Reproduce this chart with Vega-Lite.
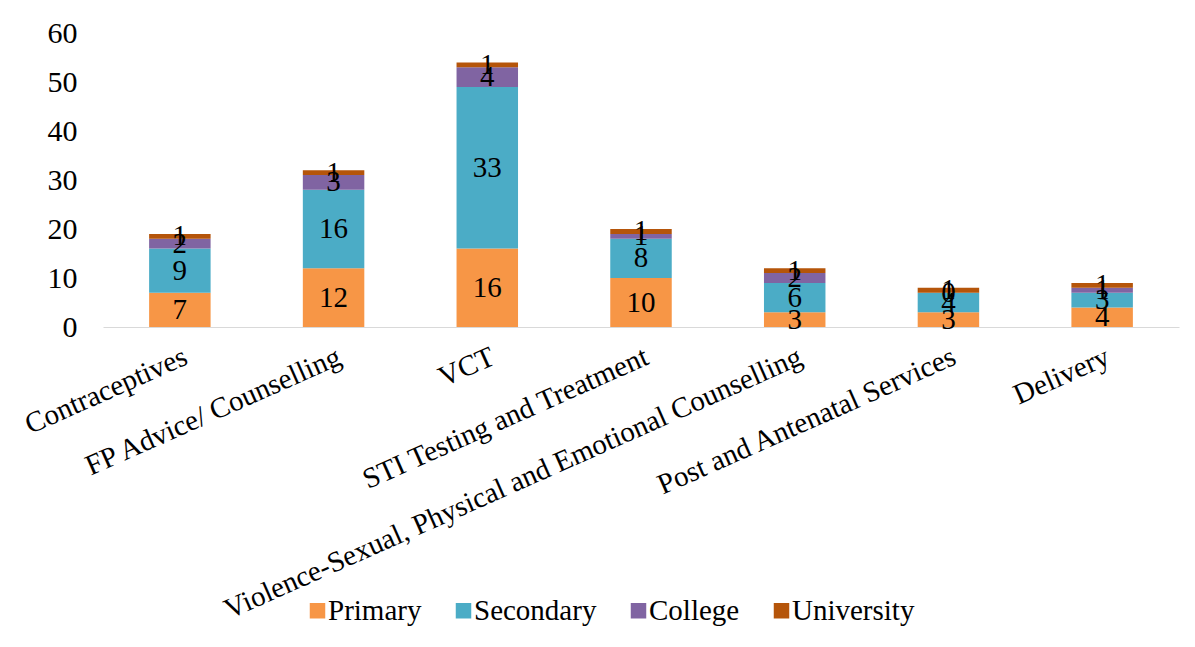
{
  "$schema": "https://vega.github.io/schema/vega-lite/v6.json",
  "autosize": {"type": "none"},
  "width": 1076,
  "height": 294,
  "padding": {"left": 103, "top": 33, "right": 16, "bottom": 320},
  "background": "white",
  "data": {
    "values": [
      {"service": "Contraceptives", "level": "Primary", "ord": 1, "count": 7},
      {"service": "Contraceptives", "level": "Secondary", "ord": 2, "count": 9},
      {"service": "Contraceptives", "level": "College", "ord": 3, "count": 2},
      {"service": "Contraceptives", "level": "University", "ord": 4, "count": 1},
      {"service": "FP Advice/ Counselling", "level": "Primary", "ord": 1, "count": 12},
      {"service": "FP Advice/ Counselling", "level": "Secondary", "ord": 2, "count": 16},
      {"service": "FP Advice/ Counselling", "level": "College", "ord": 3, "count": 3},
      {"service": "FP Advice/ Counselling", "level": "University", "ord": 4, "count": 1},
      {"service": "VCT", "level": "Primary", "ord": 1, "count": 16},
      {"service": "VCT", "level": "Secondary", "ord": 2, "count": 33},
      {"service": "VCT", "level": "College", "ord": 3, "count": 4},
      {"service": "VCT", "level": "University", "ord": 4, "count": 1},
      {"service": "STI Testing and Treatment", "level": "Primary", "ord": 1, "count": 10},
      {"service": "STI Testing and Treatment", "level": "Secondary", "ord": 2, "count": 8},
      {"service": "STI Testing and Treatment", "level": "College", "ord": 3, "count": 1},
      {"service": "STI Testing and Treatment", "level": "University", "ord": 4, "count": 1},
      {"service": "Violence-Sexual, Physical and Emotional Counselling", "level": "Primary", "ord": 1, "count": 3},
      {"service": "Violence-Sexual, Physical and Emotional Counselling", "level": "Secondary", "ord": 2, "count": 6},
      {"service": "Violence-Sexual, Physical and Emotional Counselling", "level": "College", "ord": 3, "count": 2},
      {"service": "Violence-Sexual, Physical and Emotional Counselling", "level": "University", "ord": 4, "count": 1},
      {"service": "Post and Antenatal Services", "level": "Primary", "ord": 1, "count": 3},
      {"service": "Post and Antenatal Services", "level": "Secondary", "ord": 2, "count": 4},
      {"service": "Post and Antenatal Services", "level": "College", "ord": 3, "count": 0},
      {"service": "Post and Antenatal Services", "level": "University", "ord": 4, "count": 1},
      {"service": "Delivery", "level": "Primary", "ord": 1, "count": 4},
      {"service": "Delivery", "level": "Secondary", "ord": 2, "count": 3},
      {"service": "Delivery", "level": "College", "ord": 3, "count": 1},
      {"service": "Delivery", "level": "University", "ord": 4, "count": 1}
    ]
  },
  "encoding": {
    "x": {
      "field": "service",
      "type": "nominal",
      "sort": null,
      "title": null,
      "scale": {"paddingInner": 0.6, "paddingOuter": 0.3},
      "axis": {
        "labelAngle": -24,
        "labelFont": "Liberation Serif",
        "labelFontSize": 29,
        "labelColor": "black",
        "labelPadding": 15,
        "labelLimit": 0,
        "ticks": false,
        "domainColor": "#D9D9D9",
        "domainWidth": 1,
        "grid": false
      }
    },
    "y": {
      "field": "count",
      "type": "quantitative",
      "stack": "zero",
      "title": null,
      "scale": {"domain": [0, 60], "nice": false},
      "axis": {
        "values": [0, 10, 20, 30, 40, 50, 60],
        "labelFont": "Liberation Serif",
        "labelFontSize": 30,
        "labelColor": "black",
        "labelPadding": 26,
        "ticks": false,
        "domain": false,
        "grid": false
      }
    },
    "order": {"field": "ord", "type": "quantitative", "sort": "ascending"}
  },
  "layer": [
    {
      "mark": {"type": "bar"},
      "encoding": {
        "color": {
          "field": "level",
          "type": "nominal",
          "sort": ["Primary", "Secondary", "College", "University"],
          "scale": {
            "domain": ["Primary", "Secondary", "College", "University"],
            "range": ["#F79646", "#4BACC6", "#8064A2", "#B5550A"]
          },
          "legend": {
            "title": null,
            "orient": "none",
            "direction": "horizontal",
            "legendX": 200,
            "legendY": 563,
            "symbolType": "square",
            "symbolSize": 240,
            "symbolStrokeWidth": 0,
            "labelFont": "Liberation Serif",
            "labelFontSize": 29,
            "labelColor": "black",
            "labelOffset": -4,
            "columnPadding": 27,
            "labelLimit": 0
          }
        }
      }
    },
    {
      "mark": {
        "type": "text",
        "font": "Liberation Serif",
        "fontSize": 29,
        "color": "black",
        "baseline": "middle",
        "align": "center"
      },
      "encoding": {
        "y": {"field": "count", "type": "quantitative", "stack": "zero", "bandPosition": 0.5},
        "detail": {"field": "level", "type": "nominal"},
        "text": {"field": "count", "type": "quantitative"}
      }
    }
  ],
  "config": {
    "font": "Liberation Serif",
    "view": {"stroke": null}
  }
}
